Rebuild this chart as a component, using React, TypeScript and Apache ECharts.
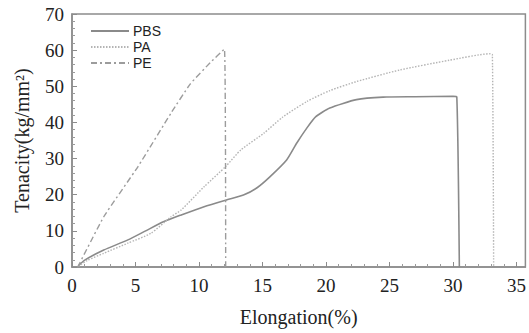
import React, { useEffect, useRef } from "react";
import * as echarts from "echarts";

const seriesNames = ["PBS", "PA", "PE"];

// [elongation %, tenacity kg/mm²]
const pbsData: [number, number][] = [
  [0.5, 0.3], [1.0, 1.9], [2.5, 4.7], [4.4, 7.5], [5.8, 10.0], [7.2, 12.5], [8.6, 14.4],
  [10.4, 16.7], [12.2, 18.6], [13.5, 19.9], [14.6, 22.0], [15.6, 25.0], [16.9, 29.6],
  [17.7, 34.3], [18.5, 38.5], [19.2, 41.6], [20.3, 44.0], [22.4, 46.3], [24.5, 47.0],
  [27.0, 47.1], [30.0, 47.2], [30.3, 47.0], [30.5, 0],
];

const paData: [number, number][] = [
  [0.5, 0.2], [1.2, 1.8], [2.5, 3.8], [4.4, 6.6], [6.2, 9.3], [7.8, 13.9], [8.6, 15.8],
  [10.4, 22.2], [12.1, 27.8], [13.3, 32.4], [15.1, 37.0], [16.6, 41.5], [18.5, 45.8],
  [20.3, 48.8], [22.4, 51.3], [25.8, 54.5], [29.7, 57.2], [32.9, 59.0], [33.1, 58.8],
  [33.2, 0],
];

const peData: [number, number][] = [
  [0.45, 0], [2.5, 13.9], [5.2, 27.8], [7.8, 42.6], [9.3, 50.6], [10.9, 56.6],
  [12.0, 60.3], [12.1, 0],
];

const xTicks = { min: 0, max: 35.7, interval: 5 };
const yTicks = { min: 0, max: 70, interval: 10 };

export default function App() {
  const ref = useRef<HTMLDivElement>(null);
  useEffect(() => {
    if (!ref.current) return;
    const chart = echarts.init(ref.current, undefined, { renderer: "svg" });
    const serif = "'Liberation Serif', 'Times New Roman', serif";
    const sans = "'Liberation Sans', Arial, sans-serif";
    const axisCommon = {
      axisLine: { show: true, lineStyle: { color: "#8c8c8c", width: 1.5 } },
      axisTick: { show: true, inside: true, length: 5, lineStyle: { color: "#8c8c8c" } },
      minorTick: { show: true, splitNumber: 5, length: 3, lineStyle: { color: "#9a9a9a" } },
      splitLine: { show: false },
    };
    chart.setOption({
      animation: false,
      backgroundColor: "#ffffff",
      grid: {
        left: 72,
        right: 3,
        top: 14,
        bottom: 66,
        show: true,
        borderColor: "#8c8c8c",
        borderWidth: 1.5,
        backgroundColor: "transparent",
      },
      legend: {
        data: seriesNames,
        orient: "vertical",
        left: 85,
        top: 19,
        itemWidth: 38,
        itemHeight: 10,
        itemGap: 2,
        itemStyle: { opacity: 0 },
        textStyle: {
          fontFamily: sans,
          fontSize: 14,
          color: "#222",
          padding: [0, 0, 0, -1],
        },
      },
      xAxis: {
        type: "value",
        ...xTicks,
        ...axisCommon,
        axisLabel: {
          fontFamily: serif,
          fontSize: 19,
          color: "#222",
          margin: 9,
          showMaxLabel: false,
        },
        name: "Elongation(%)",
        nameLocation: "middle",
        nameGap: 40,
        nameTextStyle: { fontFamily: serif, fontSize: 20, color: "#222" },
      },
      yAxis: {
        type: "value",
        ...yTicks,
        ...axisCommon,
        axisLabel: { fontFamily: serif, fontSize: 19, color: "#222", margin: 8 },
        name: "Tenacity(kg/mm²)",
        nameLocation: "middle",
        nameGap: 40,
        nameTextStyle: { fontFamily: serif, fontSize: 20, color: "#222" },
      },
      series: [
        {
          name: seriesNames[0],
          type: "line",
          data: pbsData,
          symbol: "none",
          smooth: 0.2,
          lineStyle: { color: "#8a8a8a", width: 1.6, type: "solid" },
          itemStyle: { color: "#8a8a8a" },
        },
        {
          name: seriesNames[1],
          type: "line",
          data: paData,
          symbol: "none",
          smooth: 0.2,
          lineStyle: { color: "#b4b4b4", width: 1.4, type: [1.5, 1.5] },
          itemStyle: { color: "#b4b4b4" },
        },
        {
          name: seriesNames[2],
          type: "line",
          data: peData,
          symbol: "none",
          smooth: 0.12,
          lineStyle: { color: "#9c9c9c", width: 1.4, type: [6, 3, 2, 3] },
          itemStyle: { color: "#9c9c9c" },
        },
      ],
    });
    return () => chart.dispose();
  }, []);
  return (
    <div
      ref={ref}
      style={{ position: "fixed", left: 0, top: 0, width: 529, height: 333 }}
    />
  );
}
